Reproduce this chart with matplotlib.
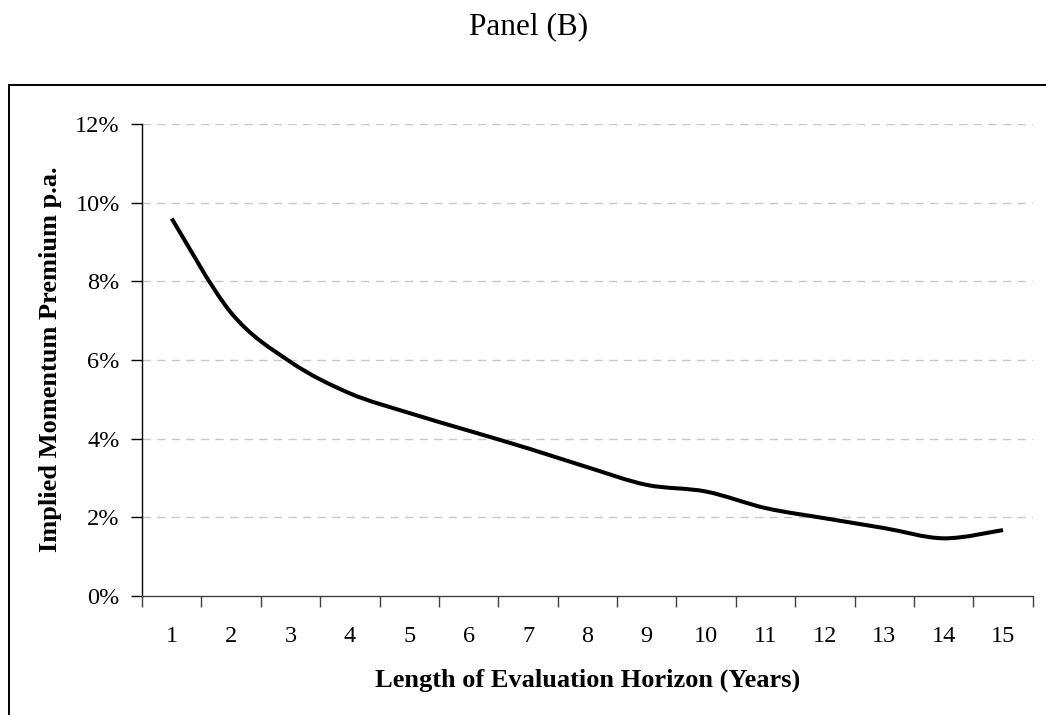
import numpy as np
import matplotlib.pyplot as plt
from matplotlib.path import Path
from matplotlib.patches import PathPatch, Rectangle
from matplotlib.ticker import FixedLocator, PercentFormatter

# Horizon lengths (years) and implied premium (% p.a.)
years = [1, 2, 3, 4, 5, 6, 7, 8, 9, 10, 11, 12, 13, 14, 15]
premium = [9.6, 7.2, 5.95, 5.15, 4.65, 4.2, 3.75, 3.27, 2.82, 2.65, 2.23, 1.97, 1.72, 1.46, 1.67]
y_ticks = [0, 2, 4, 6, 8, 10, 12]

title_text = 'Panel (B)'
x_label = 'Length of Evaluation Horizon (Years)'
y_label = 'Implied Momentum Premium p.a.'

plt.rcParams['font.family'] = ['Liberation Serif', 'DejaVu Serif']


def smooth_path(xs, ys):
	# Excel-like smoothed line: cubic bezier segments through every point
	pts = np.column_stack([xs, ys]).astype(float)
	padded = np.vstack([pts[0], pts, pts[-1]])
	verts = [pts[0]]
	codes = [Path.MOVETO]
	for i in range(len(pts) - 1):
		p0, p1, p2, p3 = padded[i], padded[i + 1], padded[i + 2], padded[i + 3]
		c1 = p1 + (p2 - p0) / 6.0
		c2 = p2 - (p3 - p1) / 6.0
		verts += [c1, c2, p2]
		codes += [Path.CURVE4] * 3
	return Path(verts, codes)


fig = plt.figure(figsize = (10.46, 7.15), dpi = 100)
ax = fig.add_axes([0.1358, 0.1669, 0.8515, 0.6593])

ax.add_patch(PathPatch(smooth_path(years, premium), facecolor = 'none',
					   edgecolor = 'black', lw = 2.9, capstyle = 'butt', zorder = 3))

ax.set_xlim(0.5, 15.5)
ax.set_ylim(0, 12)

for v in y_ticks[1:]:
	ax.axhline(v, color = '#c8c8c8', lw = 1.0, ls = (0, (6, 4.5)), zorder = 1)

ax.spines['top'].set_visible(False)
ax.spines['right'].set_visible(False)
ax.spines['left'].set_linewidth(1.0)
ax.spines['bottom'].set_linewidth(1.0)
ax.spines['bottom'].set_color('#404040')

ax.yaxis.set_major_locator(FixedLocator(y_ticks))
ax.yaxis.set_major_formatter(PercentFormatter(decimals = 0))
ax.tick_params(axis = 'y', direction = 'out', length = 8, width = 1.0,
			   labelsize = 17.5, pad = 8)

ax.xaxis.set_major_locator(FixedLocator(np.arange(0.5, 16, 1)))
ax.xaxis.set_major_formatter(plt.NullFormatter())
ax.set_xticks(years, [str(y) for y in years], minor = True)
ax.tick_params(axis = 'x', which = 'major', direction = 'out', length = 8,
			   width = 1.0, color = '#404040')
ax.tick_params(axis = 'x', which = 'minor', length = 0, labelsize = 17.5, pad = 22)

fig.text(0.5615, 0.049, x_label, ha = 'center', va = 'center',
		 fontsize = 19, fontweight = 'bold')
fig.text(0.048, 0.497, y_label, ha = 'center', va = 'center',
		 rotation = 90, fontsize = 19, fontweight = 'bold')
fig.text(0.505, 0.963, title_text, ha = 'center', va = 'center', fontsize = 22.5)

# outer frame, open to the right and bottom edges
fig.patches.append(Rectangle((9 / 1046, -0.1), 1.2, 1 - 85 / 715 + 0.1,
							 transform = fig.transFigure, fill = False,
							 edgecolor = 'black', lw = 1.4))

fig.savefig('out.png', dpi = 100)
